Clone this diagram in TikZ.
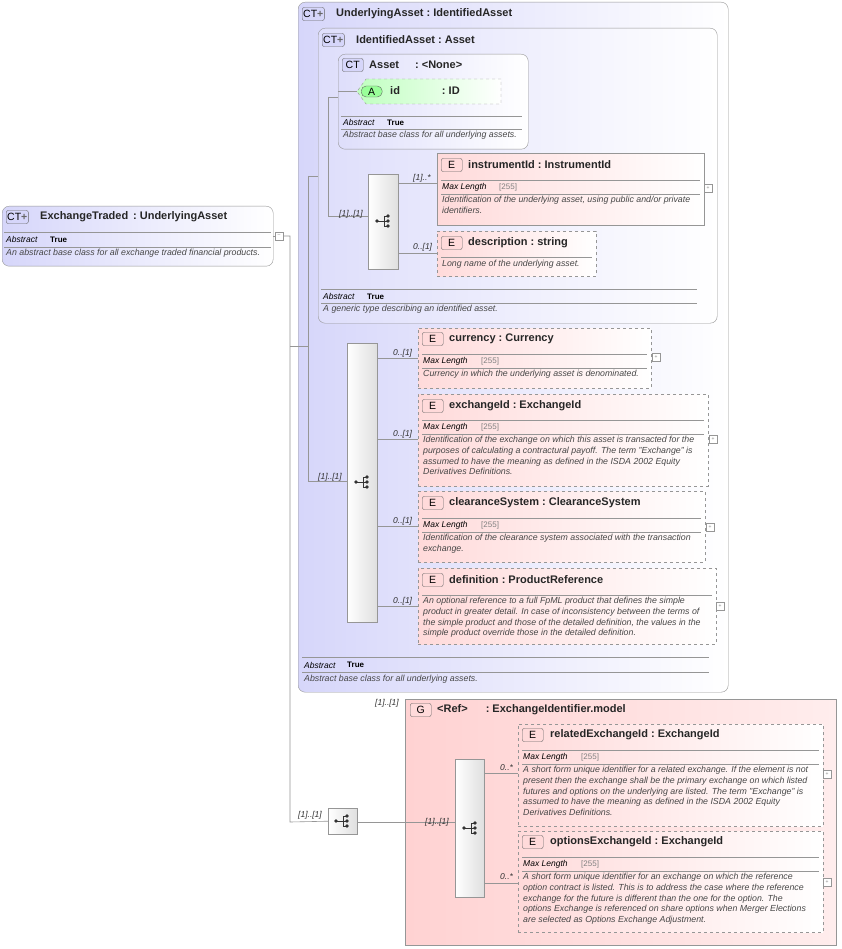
\documentclass[tikz,border=0pt]{standalone}
\usepackage{fontspec}
\setmainfont{Liberation Sans}
\usetikzlibrary{shapes.geometric}
\definecolor{ctl}{RGB}{214,214,250}
\definecolor{el}{RGB}{255,218,218}
\definecolor{gl}{RGB}{255,210,210}
\definecolor{ln}{RGB}{150,150,150}
\definecolor{dsc}{RGB}{70,70,70}
\tikzset{x=1pt,y=-1pt,
 ct/.style={draw=ln,rounded corners=7pt,left color=ctl,right color=white,anchor=north west,inner sep=0pt},
 ctin/.style={draw=ln,rounded corners=7pt,left color=ctl!80,right color=white,anchor=north west,inner sep=0pt},
 elem/.style={draw=ln,left color=el,right color=white,anchor=north west,inner sep=0pt},
 delem/.style={elem,dashed},
 grp/.style={draw=ln,left color=gl,right color=gl!40,anchor=north west,inner sep=0pt},
 seq/.style={draw=ln,left color=white,right color=gray!25,anchor=north west,inner sep=0pt},
 con/.style={draw=ln,line width=0.6pt},
 ttl/.style={anchor=west,inner sep=0pt,font=\fontsize{11}{12}\selectfont\bfseries,text=black!85},
 dsc/.style={anchor=north west,inner sep=0pt,align=left,font=\fontsize{8.8}{10.8}\selectfont\itshape,text=dsc},
 lab/.style={anchor=west,inner sep=0pt,font=\fontsize{8.5}{9}\selectfont\itshape,text=black!80},
 prop/.style={anchor=west,inner sep=0pt,font=\fontsize{8.5}{9}\selectfont\itshape,text=black},
 pval/.style={anchor=west,inner sep=0pt,font=\fontsize{8}{9}\selectfont\bfseries,text=black},
 gval/.style={anchor=west,inner sep=0pt,font=\fontsize{8}{9}\selectfont,text=gray},
 bdg/.style={draw=black!60,rounded corners=2pt,inner sep=1pt,minimum height=13pt,minimum width=21pt,font=\fontsize{10.5}{11}\selectfont,anchor=west},
 pm/.style={draw=ln,fill=white,minimum size=8pt,inner sep=0pt}}
\newcommand{\sqicon}[2]{%
 \begin{scope}[shift={(#1,#2)},black!80]
 \draw (-6,0)--(1,0) (1,-5)--(1,5) (1,-5)--(5,-5) (1,5)--(5,5) (1,0)--(5,0);
 \fill (-6,0) circle(1.8) (5,-5) circle(1.8) (5,0) circle(1.8) (5,5) circle(1.8);
 \end{scope}}
\newcommand{\ctp}{CT\textcolor{black!60}{\textbf{+}}}
\newcommand{\plusbox}[3]{\node[pm] (#3) at (#1,#2) {\tiny\textcolor{gray}{+}};}
\newcommand{\hr}[3]{\draw[ln,line width=0.4pt] (#1,#3)--(#2,#3);}
\begin{document}
\begin{tikzpicture}
\useasboundingbox[fill=white] (0,0) rectangle (842,949);
% ---------- ExchangeTraded
\node[ct,minimum width=271pt,minimum height=60pt] (et) at (2,206) {};
\node[bdg,fill=ctl] (b1) at (6,217) {\ctp};
\node[ttl] at (40,217) {ExchangeTraded\ \,:\ UnderlyingAsset};
\hr{4}{271}{232}\node[prop] at (6,239.5) {Abstract};\node[pval] at (50,239.5) {True};
\hr{4}{271}{247}\node[dsc] at (6,249) {An abstract base class for all exchange traded financial products.};
\node[pm] (m1) at (279,236) {\tiny\textcolor{gray}{--}};
% ---------- UnderlyingAsset
\node[ct,minimum width=430pt,minimum height=690pt] (ua) at (298,2) {};
\node[bdg,fill=ctl] at (302,14) {\ctp};
\node[ttl] at (336,14) {UnderlyingAsset\ :\ IdentifiedAsset};
\hr{302}{709}{657}\node[prop] at (304,665) {Abstract};\node[pval] at (347,665) {True};
\hr{302}{709}{672}\node[dsc] at (304,675) {Abstract base class for all underlying assets.};
% ---------- IdentifiedAsset
\node[ctin,minimum width=399pt,minimum height=295pt] (ia) at (318,28) {};
\node[bdg,fill=ctl] at (322,40) {\ctp};
\node[ttl] at (356,40) {IdentifiedAsset\ :\ Asset};
\hr{321}{697}{289}\node[prop] at (323,296.5) {Abstract};\node[pval] at (367,296.5) {True};
\hr{321}{697}{303}\node[dsc] at (323,305) {A generic type describing an identified asset.};
% ---------- Asset
\node[ctin,minimum width=190pt,minimum height=95pt] (as) at (338,54) {};
\node[bdg,fill=ctl] at (342,65) {CT};
\node[ttl] at (369,65) {Asset\hspace{16pt}:\ <None>};
\path[draw=ln,dashed,left color=green!25,right color=white] (366,79)--(501,79)--(501,104)--(366,104)--(357,91.5)--cycle;
\node[bdg,fill=green!40,rounded corners=5pt,minimum height=11pt] (ab) at (361,91.5) {\,A\,};
\node[ttl] (id) at (390,91) {id\hspace{42pt}:\ ID};
\hr{341}{522}{116}\node[prop] at (343,122.5) {Abstract};\node[pval] at (387,122.5) {True};
\hr{341}{522}{129}\node[dsc] at (343,131) {Abstract base class for all underlying assets.};
\coordinate (idl) at (357,91.5);
% ---------- sequence 1
\node[seq,minimum width=30pt,minimum height=95pt] (s1) at (368,174) {};
\sqicon{383}{221}
\node[elem,minimum width=267pt,minimum height=72pt] (ii) at (437,153) {};
\node[bdg,fill=el] at (441,165) {E};
\node[ttl] at (468,165) {instrumentId\ :\ InstrumentId};
\hr{441}{700}{180}\node[prop] at (442,187.5) {Max Length};\node[gval] at (499,187.5) {[255]};
\hr{441}{700}{194}\node[dsc] at (442,196) {Identification of the underlying asset, using public and/or private\\identifiers.};
\plusbox{708}{188}{p1}
\node[delem,minimum width=159pt,minimum height=45pt] (de) at (437,231) {};
\node[bdg,fill=el] at (441,243) {E};
\node[ttl] at (468,243) {description\ :\ string};
\hr{441}{592}{257}\node[dsc] at (442,260) {Long name of the underlying asset.};
% ---------- sequence 2
\node[seq,minimum width=30pt,minimum height=279pt] (s2) at (347,343) {};
\sqicon{362}{482}
\node[delem,minimum width=233pt,minimum height=60pt] (cu) at (418,328) {};
\node[bdg,fill=el] at (422,339) {E};
\node[ttl] at (449,339) {currency\ :\ Currency};
\hr{422}{647}{354}\node[prop] at (423,361.5) {Max Length};\node[gval] at (481,361.5) {[255]};
\hr{422}{647}{368}\node[dsc] at (423,370) {Currency in which the underlying asset is denominated.};
\plusbox{656}{357}{p2}
\node[delem,minimum width=290pt,minimum height=92pt] (ex) at (418,394) {};
\node[bdg,fill=el] at (422,406) {E};
\node[ttl] at (449,406) {exchangeId\ :\ ExchangeId};
\hr{422}{704}{420}\node[prop] at (423,427.5) {Max Length};\node[gval] at (481,427.5) {[255]};
\hr{422}{704}{434}\node[dsc] at (423,436) {Identification of the exchange on which this asset is transacted for the\\purposes of calculating a contractural payoff. The term "Exchange" is\\assumed to have the meaning as defined in the ISDA 2002 Equity\\Derivatives Definitions.};
\plusbox{713}{439}{p3}
\node[delem,minimum width=287pt,minimum height=71pt] (cs) at (418,491) {};
\node[bdg,fill=el] at (422,503) {E};
\node[ttl] at (449,503) {clearanceSystem\ :\ ClearanceSystem};
\hr{422}{701}{518}\node[prop] at (423,525.5) {Max Length};\node[gval] at (481,525.5) {[255]};
\hr{422}{701}{532}\node[dsc] at (423,534) {Identification of the clearance system associated with the transaction\\exchange.};
\plusbox{710}{527}{p4}
\node[delem,minimum width=298pt,minimum height=76pt] (df) at (418,568) {};
\node[bdg,fill=el] at (422,580) {E};
\node[ttl] at (449,580) {definition\ :\ ProductReference};
\hr{422}{712}{595}\node[dsc] at (423,597) {An optional reference to a full FpML product that defines the simple\\product in greater detail. In case of inconsistency between the terms of\\the simple product and those of the detailed definition, the values in the\\simple product override those in the detailed definition.};
\plusbox{720}{606}{p5}
% ---------- group
\node[grp,minimum width=431pt,minimum height=246pt] (gr) at (405,699) {};
\node[bdg,fill=el] at (410,710) {G};
\node[ttl] at (437,710) {<Ref>\hspace{18pt}:\ ExchangeIdentifier.model};
\node[lab] at (375,703) {[1]..[1]};
\node[seq,minimum width=29pt,minimum height=26pt] (s0) at (328,808) {};
\sqicon{342}{821}
\node[seq,minimum width=29pt,minimum height=138pt] (s3) at (455,759) {};
\sqicon{470}{828}
\node[delem,minimum width=305pt,minimum height=102pt] (re) at (518,724) {};
\node[bdg,fill=el] at (522,735) {E};
\node[ttl] at (550,735) {relatedExchangeId\ :\ ExchangeId};
\hr{522}{819}{750}\node[prop] at (523,757.5) {Max Length};\node[gval] at (581,757.5) {[255]};
\hr{522}{819}{764}\node[dsc] at (523,766) {A short form unique identifier for a related exchange. If the element is not\\present then the exchange shall be the primary exchange on which listed\\futures and options on the underlying are listed. The term "Exchange" is\\assumed to have the meaning as defined in the ISDA 2002 Equity\\Derivatives Definitions.};
\plusbox{827}{774}{p6}
\node[delem,minimum width=305pt,minimum height=101pt] (oe) at (518,831) {};
\node[bdg,fill=el] at (522,842) {E};
\node[ttl] at (550,842) {optionsExchangeId\ :\ ExchangeId};
\hr{522}{819}{857}\node[prop] at (523,864.5) {Max Length};\node[gval] at (581,864.5) {[255]};
\hr{522}{819}{871}\node[dsc] at (523,873) {A short form unique identifier for an exchange on which the reference\\option contract is listed. This is to address the case where the reference\\exchange for the future is different than the one for the option. The\\options Exchange is referenced on share options when Merger Elections\\are selected as Options Exchange Adjustment.};
\plusbox{827}{882}{p7}
% ---------- connectors
\draw[con] (et.east|-m1) -- (m1.west);
\draw[con] (m1.east) -- (290,236) -- (290,822) -- (s0.west);
\draw[con] (290,346) -- (ua.west|-0,346);
\draw[con] (ua.west|-0,346) -- (308,346);
\draw[con] (308,176) -- (308,481) -- (s2.west|-0,481);
\draw[con] (308,176) -- (ia.west|-0,176);
\draw[con] (328,216) -- (328,97) -- (as.west|-0,97);
\draw[con] (328,216) -- (s1.west|-0,216);
\draw[con] (as.west|-idl) -- (idl);
\draw[con] (s1.east|-0,183) -- (ii.west|-0,183);
\draw[con] (s1.east|-0,253) -- (de.west|-0,253);
\foreach \n/\yy in {cu/358,ex/439,cs/526,df/606}{\draw[con] (s2.east|-0,\yy) -- (\n.west|-0,\yy);
 \node[lab] at (393,\yy-5) {0..[1]};}
\draw[con] (s0.east|-0,822) -- (s3.west|-0,822);
\draw[con] (s3.east|-0,773) -- (re.west|-0,773);
\draw[con] (s3.east|-0,883) -- (oe.west|-0,883);
\node[lab] at (413,178) {[1]..*};
\node[lab] at (413,247) {0..[1]};
\node[lab] at (339,214) {[1]..[1]};
\node[lab] at (318,477) {[1]..[1]};
\node[lab] at (298,815) {[1]..[1]};
\node[lab] at (425,822) {[1]..[1]};
\node[lab] at (500,768) {0..*};
\node[lab] at (500,877) {0..*};
\end{tikzpicture}
\end{document}
